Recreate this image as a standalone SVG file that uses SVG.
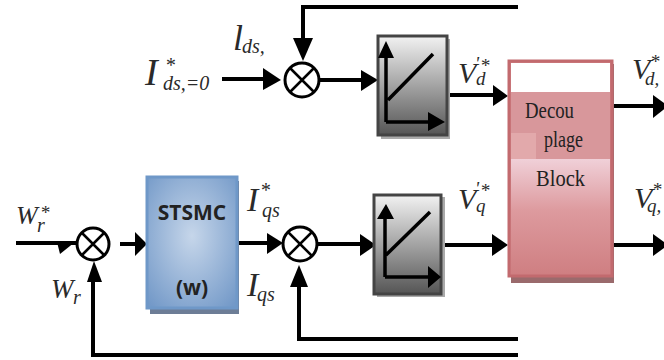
<svg xmlns="http://www.w3.org/2000/svg" width="664" height="360" viewBox="0 0 664 360">
<style>
.w{fill:none;stroke:#000;stroke-width:4}
.h{fill:#000;stroke:none}
.c{fill:#fff;stroke:#000;stroke-width:3}
.x{stroke:#000;stroke-width:2.5}
.m{font-family:"Liberation Serif",serif;font-style:italic;fill:#2a2a2a}
.t{font-family:"Liberation Serif",serif;fill:#222;font-size:23px}
.b{font-family:"Open Sans","Liberation Sans",sans-serif;font-weight:700;fill:#222;font-size:21px}
.pl{fill:none;stroke:#000;stroke-width:3.500}
.u{font-size:20px}
.s{font-size:19px}
</style>
<defs>
<linearGradient id="g" x1="0" y1="0" x2="0" y2="1"><stop offset="0" stop-color="#f2f2f2"/><stop offset="1" stop-color="#555"/></linearGradient>
<linearGradient id="r" x1="0" y1="0" x2="0" y2="1"><stop offset="0" stop-color="#f0d0d8"/><stop offset=".45" stop-color="#dd9a9e"/><stop offset="1" stop-color="#cf7f82"/></linearGradient>
<radialGradient id="bl" cx=".5" cy=".45" r=".7"><stop offset="0" stop-color="#c6d6ea"/><stop offset="1" stop-color="#7399c8"/></radialGradient>
</defs>
<g id="connectors">
<path class="w" d="M518 7H303V40"/><path class="h" d="M293 38H313L303 61Z"/>
<path class="w" d="M222 79H266"/><path class="h" d="M263 68L281 80L263 90Z"/>
<path class="w" d="M320 80H364"/><path class="h" d="M361 70L378 80L361 91Z"/>
<path class="w" d="M447 95H495"/><path class="h" d="M493 85L508 96L493 106Z"/>
<path class="w" d="M613 106H655"/><path class="h" d="M653 95V118L668 106Z"/>
<path class="w" d="M442 245H495"/><path class="h" d="M492 234L508 245L492 256Z"/>
<path class="w" d="M613 245H655"/><path class="h" d="M653 234V256L668 245Z"/>
<path class="w" d="M16 243H76"/><path class="h" d="M57 242H75L60 254Z"/>
<path class="w" d="M120 244H140"/><path class="h" d="M135 232L147 244L135 256Z"/>
<path class="w" d="M239 243H270"/><path class="h" d="M267 233L283 243L267 254Z"/>
<path class="w" d="M318 244H365"/><path class="h" d="M360 234L376 245L360 256Z"/>
<path class="w" d="M518 339H299V285"/><path class="h" d="M290 287L299 265L308 287Z"/>
<path class="w" d="M518 355H93V280"/><path class="h" d="M87 282L94 261L102 282Z"/>
</g>
<g id="sum-top"><circle class="c" cx="302" cy="80" r="17"/><path class="x" d="M290 68L314 92M314 68L290 92"/></g>
<g id="sum-speed"><circle class="c" cx="93" cy="244" r="16"/><path class="x" d="M82 233L104 255M104 233L82 255"/></g>
<g id="sum-bottom"><circle class="c" cx="300" cy="244" r="17"/><path class="x" d="M288 232L312 256M312 232L288 256"/></g>
<g id="pi-top">
<rect x="381" y="39" width="69" height="100" fill="#aaa"/>
<rect x="378" y="36" width="69" height="99" fill="url(#g)" stroke="#444" stroke-width="3"/>
<path class="pl" d="M386 122V50M386 122H430M388 100L433 54"/>
<path class="h" d="M378 58L386 41L394 58ZM428 112L445 122L428 131Z"/>
</g>
<g id="pi-bottom">
<rect x="377" y="197" width="68" height="100" fill="#aaa"/>
<rect x="374" y="195" width="67" height="99" fill="url(#g)" stroke="#444" stroke-width="3"/>
<path class="pl" d="M385 277V218M385 277H430M386 255L430 212"/>
<path class="h" d="M377 219L386 204L394 219ZM428 266L441 277L428 288Z"/>
</g>
<g id="stsmc">
<rect x="150" y="181" width="89" height="133" fill="#6d7d96"/>
<rect x="147" y="177" width="90" height="131" fill="url(#bl)" stroke="#6f98c8" stroke-width="3"/>
<text class="b" x="192" y="220" text-anchor="middle">STSMC</text>
<text class="b" x="192" y="295" text-anchor="middle">(w)</text>
</g>
<g id="decoupling">
<rect x="511" y="64" width="103" height="219" fill="#9a6a6c"/>
<rect x="509" y="61" width="103" height="215" fill="#cf7f82" stroke="#c26a6e" stroke-width="3"/>
<rect x="511" y="63" width="99" height="29" fill="#fff"/>
<rect x="511" y="92" width="99" height="67" fill="#d8979b"/>
<rect x="511" y="133" width="25" height="26" fill="#e2a9ab"/>
<rect x="511" y="159" width="99" height="115" fill="url(#r)"/>
<text class="t" x="525" y="118" textLength="49" lengthAdjust="spacingAndGlyphs">Decou</text>
<text class="t" x="544" y="147" textLength="39" lengthAdjust="spacingAndGlyphs">plage</text>
<text class="t" x="536" y="186" textLength="49" lengthAdjust="spacingAndGlyphs">Block</text>
</g>
<g id="labels">
<text class="m" font-size="38" x="145" y="85">I<tspan class="u" x="165" y="72">*</tspan><tspan class="u" x="163" y="90">ds,=0</tspan></text>
<text class="m" font-size="36" x="233" y="50">l<tspan class="u" x="242" y="53">ds,</tspan></text>
<text class="m" font-size="30" x="458" y="83">V<tspan class="s" x="475" y="70">'</tspan><tspan class="s" x="480" y="72">*</tspan><tspan class="s" x="476" y="85">d</tspan></text>
<text class="m" font-size="30" x="632" y="79">V<tspan class="s" x="650" y="68">*</tspan><tspan class="s" x="645" y="85">d,</tspan></text>
<text class="m" font-size="30" x="458" y="209">V<tspan class="s" x="475" y="195">'</tspan><tspan class="s" x="480" y="197">*</tspan><tspan class="s" x="476" y="212">q</tspan></text>
<text class="m" font-size="30" x="634" y="208">V<tspan class="s" x="652" y="196">*</tspan><tspan class="s" x="647" y="212">q,</tspan></text>
<text class="m" font-size="34" x="247" y="211">I<tspan class="u" x="260" y="197">*</tspan><tspan class="u" x="262" y="217">qs</tspan></text>
<text class="m" font-size="34" x="247" y="296">I<tspan class="u" x="257" y="301">qs</tspan></text>
<text class="m" font-size="26" x="16" y="224">W<tspan class="s" x="40" y="219">*</tspan><tspan class="u" x="37" y="232">r</tspan></text>
<text class="m" font-size="27" x="51" y="298">W<tspan class="u" x="73" y="304">r</tspan></text>
</g>
</svg>
